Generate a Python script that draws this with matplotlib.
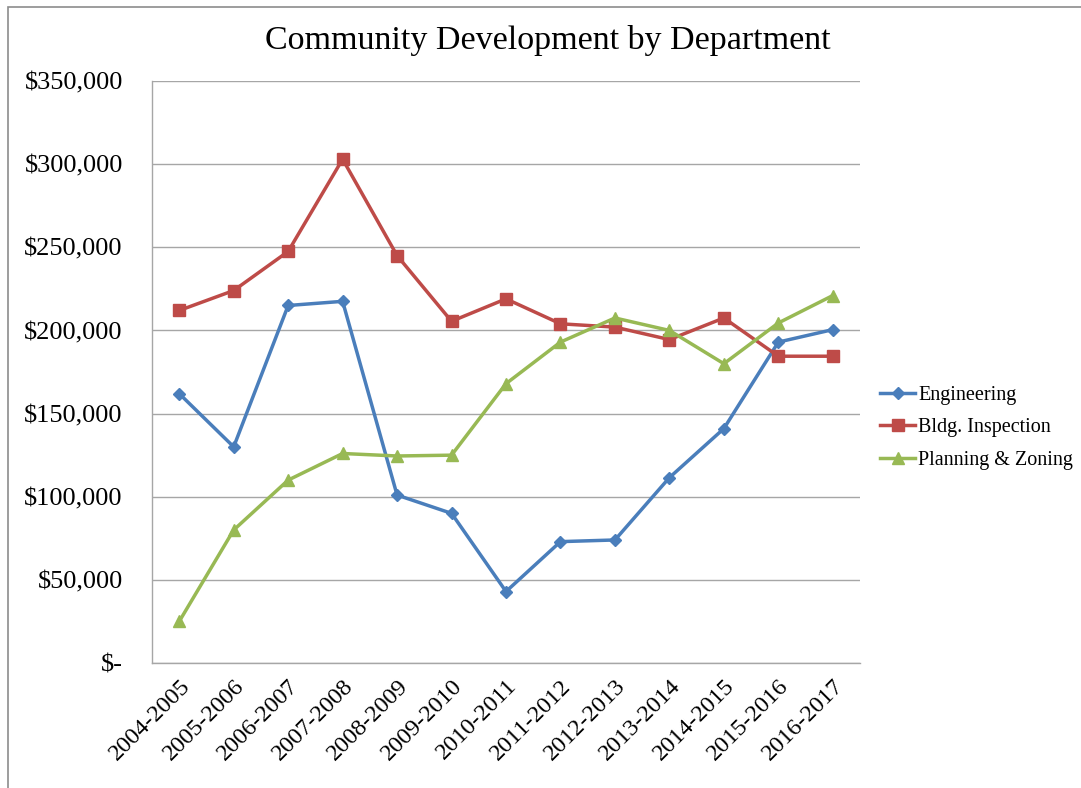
import matplotlib.pyplot as plt
from matplotlib.patches import Rectangle
from matplotlib.ticker import FuncFormatter

# Fiscal years on the x axis
years = ['2004-2005', '2005-2006', '2006-2007', '2007-2008', '2008-2009',
         '2009-2010', '2010-2011', '2011-2012', '2012-2013', '2013-2014',
         '2014-2015', '2015-2016', '2016-2017']

# Spending per department
engineering = [162000, 130000, 215000, 217500, 101000, 90000, 43000,
               73000, 74000, 111500, 141000, 193000, 200500]
bldg_inspection = [212000, 224000, 247500, 303000, 245000, 205500, 219000,
                   204000, 202000, 194500, 207500, 184500, 184500]
planning_zoning = [25000, 80000, 110000, 126000, 124500, 125000, 168000,
                   193000, 207500, 200000, 180000, 204500, 221000]

plt.rcParams['font.family'] = ['Liberation Serif', 'DejaVu Serif']

fig = plt.figure(figsize=(10.81, 7.88), dpi=100)
# outer chart frame
fig.patches.append(Rectangle((8 / 1081, -0.01), 1.1, 1 - 7 / 788 + 0.01,
                             transform=fig.transFigure, fill=False,
                             edgecolor='#8c8c8c', linewidth=1.2))

ax = fig.add_axes([0.1406, 0.1586, 0.6550, 0.7386])
x = range(len(years))

ax.plot(x, engineering, color='#4a7ebb', linewidth=2.5, marker='D',
        markersize=6.5, label='Engineering')
ax.plot(x, bldg_inspection, color='#be4b48', linewidth=2.5, marker='s',
        markersize=8.5, label='Bldg. Inspection')
ax.plot(x, planning_zoning, color='#98b954', linewidth=2.5, marker='^',
        markersize=9, label='Planning & Zoning')

ax.set_xlim(-0.5, len(years) - 0.5)
ax.set_ylim(0, 350000)
ax.set_yticks(range(0, 350001, 50000))


def money(v, pos):
    if v == 0:
        return '$-'
    return '${:,.0f}'.format(v)


ax.yaxis.set_major_formatter(FuncFormatter(money))
ax.set_xticks(list(x))
ax.set_xticklabels(years, rotation=45, ha='right', rotation_mode='anchor')
ax.tick_params(axis='y', length=0, pad=21, labelsize=19)
ax.tick_params(axis='x', length=0, pad=9, labelsize=17.5)

ax.grid(axis='y', color='#a6a6a6', linewidth=1)
ax.set_axisbelow(True)
for s in ['top', 'right']:
    ax.spines[s].set_visible(False)
for s in ['left', 'bottom']:
    ax.spines[s].set_color('#a6a6a6')
    ax.spines[s].set_linewidth(1)

fig.text(0.507, 0.949, 'Community Development by Department',
         ha='center', va='center', fontsize=24.5)

ax.legend(loc='center left', bbox_to_anchor=(0.814, 0.457),
          bbox_transform=fig.transFigure, frameon=False, fontsize=14.5,
          handlelength=1.75, handletextpad=0.15, labelspacing=0.65,
          borderpad=0, borderaxespad=0)

fig.savefig('out.png', dpi=100)
